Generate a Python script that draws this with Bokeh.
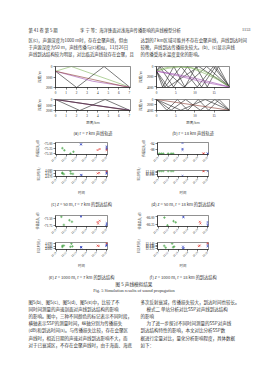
import math
from bokeh.plotting import figure
from bokeh.layouts import column, row
from bokeh.models import Range1d, Title, Legend, LegendItem, FixedTicker, NumeralTickFormatter
from bokeh.core.properties import value
from bokeh.embed import file_html
from bokeh.resources import INLINE

CJK = "Noto Sans CJK SC"
LAT = "Liberation Serif"
TXT = "#333333"

# ---------------- page text ----------------
header_left = "第 41 卷 第 5 期"
header_mid = "李 宁 等：海洋锋面对浅海声传播影响的声线模型分析"
header_right = "1153"
top_left_lines = [
    "区(c)，声源深度为1000 m时，存在会聚声线，但由",
    "于声源深度为50 m，声线传播与(c)相似，11月26日",
    "声线到达结构较为明显，对比临近声线就存在会聚，且",
]
top_right_lines = [
    "达到的7 km区域可能并不存在会聚声线，声线到达时间",
    "较晚，声线到达传播损失较大。(b)、(c)显示声线",
    "的传播受海水温度变化的影响。",
]
fig_caption_cn = "图 5  声线模拟结果"
fig_caption_en = "Fig. 5  Simulation results of sound propagation"
body_left_lines = [
    "图5(b)、图5(c)、图5(d)、图5(e)中，比较了不",
    "同时间测量的声速剖面对声线到达结构的影响",
    "的影响。图中，三种不同颜色的标记表示不同时段，",
    "横轴表示SSP的测量时间，纵轴分别为传播损失",
    "(dB)和到达时间(s)。与传播损失比较，存在会聚区",
    "声线时，相近日期的声速对声线到达影响不大，而",
    "对于已衰减区，不存在会聚声线时，由于海面、海底",
]
body_right_lines = [
    "多次反射衰减，传播损失较大，到达时间也较长。",
    "模式二  单站分析对比SSP对声线到达结构",
    "的影响",
    "为了进一步探讨不同时间测量的SSP对声线",
    "到达结构特性的影响，本文对比分析SSP数",
    "据进行定量对比，量化分析影响程度，具体数据",
    "如下：",
]

# ---------------- ray traces (range km, depth m) ----------------
depth_label = "深度/m"
range_label = "距离/km"
cap_a = "(a) r = 7 km 声线轨迹"
cap_b = "(b) r = 18 km 声线轨迹"

a1_rays = [
    ([0, 1.5, 7.0], [450, 0, 1950], "green"),
    ([0, 2.0, 4.6, 7.0], [450, 2000, 0, 1950], "black"),
    ([0, 3.5, 7.0], [450, 1400, 1950], "purple"),
    ([0, 7.0], [450, 2000], "brown"),
]
a2_rays = [
    ([0, 2.3, 4.7, 7.0], [0, 2000, 0, 1950], "black"),
    ([0, 7.0], [0, 2000], "brown"),
    ([0, 3.5, 7.0], [0, 1000, 1900], "purple"),
    ([0, 7.0], [0, 1950], "black"),
]
b1_rays = [
    ([0, 2.2, 6.4, 10.6, 14.8, 19.0], [900, 4000, 0, 4000, 0, 4000], "black"),
    ([0, 1.6, 4.5, 7.4, 10.3, 13.2, 16.1, 19.0], [900, 4000, 0, 4000, 0, 4000, 0, 4000], "black"),
    ([0, 0.8, 4.44, 8.08, 11.72, 15.36, 19.0], [900, 0, 4000, 0, 4000, 0, 4000], "black"),
    ([0, 1.2, 7.13, 13.06, 19.0], [900, 0, 4000, 0, 4000], "black"),
    ([0, 3.0, 11.0, 19.0], [900, 4000, 0, 4000], "black"),
    ([0, 2.0, 4.0, 6.0, 9.0, 13.0, 16.0, 19.0], [900, 300, 50, 0, 300, 1500, 2600, 4000], "green"),
    ([0, 3.0, 6.0, 9.0, 12.0, 16.0, 19.0], [900, 350, 100, 200, 800, 2300, 4000], "green"),
    ([0, 5.0, 10.0, 15.0, 19.0], [900, 1500, 2300, 3200, 4000], "purple"),
    ([0, 6.0, 12.0, 19.0], [900, 1900, 3000, 4000], "purple"),
]
b2_rays = [
    ([0, 3.8, 7.6, 11.4, 15.2, 19.0], [0, 4000, 0, 4000, 0, 4000], "black"),
    ([0, 6.33, 12.67, 19.0], [0, 4000, 0, 4000], "black"),
    ([0, 2.71, 5.43, 8.14, 10.86, 13.57, 16.29, 19.0], [0, 4000, 0, 4000, 0, 4000, 0, 4000], "black"),
    ([0, 19.0], [0, 4000], "brown"),
]

# ---------------- arrival structure scatter ----------------
day_labels = ["11/21", "11/22", "11/23", "11/24", "11/25", "11/26"]
series_names = ["上 午", "中 午", "下 午"]
time_label = "时间"
loss_label = "传播损失/dB"
arr_label = "到达时间/s"
cap_c = "(c) z = 50 m, r = 7 km 的到达结构"
cap_d = "(d) z = 50 m, r = 18 km 的到达结构"
cap_e = "(e) z = 1000 m, r = 7 km 的到达结构"
cap_f = "(f) z = 1000 m, r = 18 km 的到达结构"

c1_red_x = [4.1, 4.3, 5.0, 5.0]
c1_red_y = [-75.33, -75.28, -75.33, -75.29]
c1_green_x = [0.6, 0.8, 1.4, 1.7]
c1_green_y = [-75.24, -75.34, -75.50, -75.41]
c1_blue_x = [2.45, 2.45, 5.0, 5.0, 5.0]
c1_blue_y = [-75.05, -75.07, -75.15, -75.22, -75.27]

c2_red_x = [4.1, 4.25, 5.0, 5.0]
c2_red_y = [4.6752, 4.6763, 4.6795, 4.6785]
c2_green_x = [0.6, 0.75, 1.4, 1.45, 1.65, 0.6]
c2_green_y = [4.6750, 4.6738, 4.6792, 4.6748, 4.6742, 4.6765]
c2_blue_x = [2.45, 2.5, 5.0, 5.0, 5.0]
c2_blue_y = [4.6727, 4.6718, 4.6770, 4.6758, 4.6745]

d1_red_x = [4.55, 4.6]
d1_red_y = [-90.6, -90.5]
d1_green_x = [0.1, 0.3, 0.5, 1.0, 1.3, 1.5]
d1_green_y = [-90.6, -90.6, -90.6, -90.6, -90.6, -90.6]
d1_blue_x = [2.45, 2.45, 2.45, 5.0, 5.0]
d1_blue_y = [-83.9, -87.6, -88.3, -90.6, -90.5]

d2_red_x = [4.55, 4.6]
d2_red_y = [12.1105, 12.1103]
d2_green_x = [0.1, 0.3, 0.5, 1.0, 1.3, 1.5]
d2_green_y = [12.1105, 12.1105, 12.1105, 12.1105, 12.1105, 12.1105]
d2_blue_x = [2.45, 5.0]
d2_blue_y = [12.0965, 12.1105]

e1_red_x = [4.1, 4.15, 4.3]
e1_red_y = [-71.63, -71.69, -71.58]
e1_green_x = [0.5, 1.3, 1.55, 0.75]
e1_green_y = [-71.43, -71.56, -71.62, -71.74]
e1_blue_x = [2.45, 2.45, 5.0, 5.0, 4.95]
e1_blue_y = [-71.40, -71.42, -71.67, -71.72, -71.77]

e2_red_x = [4.1, 4.2, 5.0, 5.0]
e2_red_y = [4.6866, 4.6858, 4.6905, 4.6898]
e2_green_x = [0.6, 0.75, 1.4, 1.6, 1.5, 0.6]
e2_green_y = [4.6862, 4.6866, 4.6848, 4.6855, 4.6895, 4.6846]
e2_blue_x = [2.45, 2.5, 2.45, 5.0, 5.0, 4.95]
e2_blue_y = [4.6845, 4.6838, 4.6841, 4.6880, 4.6870, 4.6862]

f1_red_x = [4.2, 4.26]
f1_red_y = [-86.16, -86.22]
f1_green_x = [0.62, 1.54, 1.76, 0.93]
f1_green_y = [-86.02, -86.14, -86.18, -86.28]
f1_blue_x = [2.53, 2.55, 5.0, 5.0, 5.0]
f1_blue_y = [-85.99, -86.01, -86.17, -86.24, -86.29]

f2_red_x = [4.1, 4.2, 5.0, 5.0]
f2_red_y = [12.132, 12.134, 12.141, 12.139]
f2_green_x = [0.6, 0.75, 1.4, 1.6, 1.5]
f2_green_y = [12.133, 12.128, 12.139, 12.131, 12.129]
f2_blue_x = [2.5, 2.55, 2.5, 5.0, 5.0]
f2_blue_y = [12.131, 12.127, 12.126, 12.135, 12.131]

COL = {"black": "#222222", "green": "#7fb35a", "purple": "#a04fb0", "brown": "#8a3a30",
       "red": "#e0302a", "sgreen": "#3c9e3c", "blue": "#2d3fbf"}


def new_fig(w, h, tb, bb, lb, rb, **kw):
    p = figure(width=w, height=h, output_backend="svg", toolbar_location=None,
               min_border_top=tb, min_border_bottom=bb, min_border_left=lb, min_border_right=rb, **kw)
    p.grid.visible = False
    return p


def text_fig(w, h):
    p = figure(width=w, height=h, output_backend="svg", toolbar_location=None,
               x_range=Range1d(0, w), y_range=Range1d(h, 0), x_axis_type=None, y_axis_type=None,
               min_border=0)
    p.grid.visible = False
    p.outline_line_color = None
    return p


def style(p, xticks, yticks, ylabel=None, xlabel=None, caption=None, ylabel_size="3.6px"):
    p.xaxis.ticker = FixedTicker(ticks=xticks)
    p.yaxis.ticker = FixedTicker(ticks=yticks)
    for ax in p.axis:
        ax.major_label_text_font_size = "3.3px"
        ax.major_label_text_font = LAT
        ax.major_label_text_color = "#222222"
        ax.major_tick_out = 2
        ax.major_tick_in = 0
        ax.minor_tick_line_color = None
        ax.axis_line_width = 0.5
        ax.major_tick_line_width = 0.5
        ax.major_label_standoff = 1
        ax.axis_label_text_font_size = "3.5px"
        ax.axis_label_text_font = CJK
        ax.axis_label_text_font_style = "normal"
        ax.axis_label_standoff = 1
    p.yaxis.axis_label_text_font_size = ylabel_size
    p.outline_line_color = "#222222"
    p.outline_line_width = 0.5
    if ylabel:
        p.yaxis.axis_label = ylabel
    if xlabel:
        p.xaxis.axis_label = xlabel
    if caption:
        t = Title(text=caption, text_font_size="4.2px", text_font=CJK, text_font_style="normal",
                  align="center", standoff=1, text_color=TXT)
        p.add_layout(t, "below")


def traj_fig(h, tb, bb, lb, rb, xmax, ymax, xticks, yticks, rays, xlabel=None, caption=None):
    p = new_fig(134, h, tb, bb, lb, rb, x_range=Range1d(0, xmax), y_range=Range1d(ymax, 0))
    for xs, ys, c in rays:
        p.line(xs, ys, line_color=COL[c], line_width=0.6)
    style(p, xticks, yticks, depth_label, xlabel, caption)
    p.xaxis.axis_label_standoff = 0
    return p


def scat_fig(h, tb, bb, lb, rb, yr, yticks, fmt, data, ylabel, xlabel=None, caption=None):
    p = new_fig(134, h, tb, bb, lb, rb, x_range=Range1d(-0.08, 5.08), y_range=Range1d(*yr))
    (rx, ry), (gx, gy), (bx, by) = data
    r1 = p.scatter(rx, ry, marker="x", size=2.6, line_color=COL["red"], line_width=0.6)
    r2 = p.scatter(gx, gy, marker="cross", size=2.6, line_color=COL["sgreen"], line_width=0.6)
    r3 = p.scatter(bx, by, marker="x", size=2.6, line_color=COL["blue"], line_width=0.6)
    style(p, [0, 1, 2, 3, 4, 5], yticks, ylabel, xlabel, caption, ylabel_size="3px")
    p.xaxis.major_label_overrides = {i: lab for i, lab in enumerate(day_labels)}
    p.xaxis.major_label_orientation = math.pi / 4
    p.xaxis.major_label_text_font_size = "2.8px"
    p.xaxis.axis_label_text_font_size = "3.4px"
    p.yaxis.formatter = NumeralTickFormatter(format=fmt)
    fw = 134 - lb - rb
    leg = Legend(items=[LegendItem(label=series_names[0], renderers=[r1]),
                        LegendItem(label=series_names[1], renderers=[r2]),
                        LegendItem(label=series_names[2], renderers=[r3])],
                 location=(fw + 4, -2), label_text_font_size="3px", label_text_font=CJK,
                 glyph_width=3, glyph_height=4, label_height=4, label_width=8, label_standoff=1,
                 spacing=0, padding=1, margin=0, border_line_color="#222222", border_line_width=0.5,
                 background_fill_alpha=1.0)
    p.add_layout(leg, "center")
    return p


# ---------------- header ----------------
header = text_fig(268, 60)
header.text(x=[28], y=[29], text=[header_left], text_font=value(CJK), text_font_size="4.3px",
            text_color=TXT, text_baseline="middle")
header.text(x=[130], y=[29], text=[header_mid], text_font=value(CJK), text_font_size="4.3px",
            text_color=TXT, text_baseline="middle", text_align="center")
header.text(x=[250], y=[29], text=[header_right], text_font=value(LAT), text_font_size="4.3px",
            text_color=TXT, text_baseline="middle", text_align="right")
header.text(x=[28] * len(top_left_lines), y=[39.5 + 7 * i for i in range(len(top_left_lines))],
            text=top_left_lines, text_font=value(CJK), text_font_size="4.4px", text_color=TXT,
            text_baseline="middle")
header.text(x=[140] * len(top_right_lines), y=[39.5 + 7 * i for i in range(len(top_right_lines))],
            text=top_right_lines, text_font=value(CJK), text_font_size="4.4px", text_color=TXT,
            text_baseline="middle")

# ---------------- row A (76 px) ----------------
a1 = traj_fig(36, 6, 8, 55, 4, 7.1, 2000, [0, 1, 2, 3, 4, 5, 6, 7], [0, 1000, 2000], a1_rays)
a2 = traj_fig(40, 3, 19, 55, 4, 7.1, 2000, [0, 1, 2, 3, 4, 5, 6, 7], [0, 1000, 2000], a2_rays,
              range_label, cap_a)
b1 = traj_fig(36, 6, 8, 21, 39, 19, 4100, [0, 5, 10, 15], [0, 2000, 4000], b1_rays)
b2 = traj_fig(40, 3, 19, 21, 39, 19, 4100, [0, 5, 10, 15], [0, 2000, 4000], b2_rays,
              range_label, cap_b)

# ---------------- row B (71 px) ----------------
c1 = scat_fig(31, 6, 11, 55, 27, (-75.54, -74.97), [-75.5, -75.25, -75.0], "0.00",
              [(c1_red_x, c1_red_y), (c1_green_x, c1_green_y), (c1_blue_x, c1_blue_y)], loss_label)
c2 = scat_fig(40, 3, 24, 55, 27, (4.6695, 4.6805), [4.670, 4.675, 4.680], "0.000",
              [(c2_red_x, c2_red_y), (c2_green_x, c2_green_y), (c2_blue_x, c2_blue_y)], arr_label,
              time_label, cap_c)
d1 = scat_fig(31, 6, 11, 20, 60, (-91.2, -83.6), [-88, -84], "0",
              [(d1_red_x, d1_red_y), (d1_green_x, d1_green_y), (d1_blue_x, d1_blue_y)], loss_label)
d2 = scat_fig(40, 3, 24, 20, 60, (12.095, 12.112), [12.100, 12.105, 12.110], "0.000",
              [(d2_red_x, d2_red_y), (d2_green_x, d2_green_y), (d2_blue_x, d2_blue_y)], arr_label,
              time_label, cap_d)

# ---------------- row C (73 px) ----------------
e1 = scat_fig(32, 8, 11, 55, 27, (-71.80, -71.38), [-71.75, -71.5], "0.00",
              [(e1_red_x, e1_red_y), (e1_green_x, e1_green_y), (e1_blue_x, e1_blue_y)], loss_label)
e2 = scat_fig(41, 3, 24, 55, 27, (4.6808, 4.6912), [4.682, 4.686, 4.690], "0.000",
              [(e2_red_x, e2_red_y), (e2_green_x, e2_green_y), (e2_blue_x, e2_blue_y)], arr_label,
              time_label, cap_e)
f1 = scat_fig(32, 8, 11, 20, 60, (-86.32, -85.95), [-86.25, -86.0], "0.00",
              [(f1_red_x, f1_red_y), (f1_green_x, f1_green_y), (f1_blue_x, f1_blue_y)], loss_label)
f2 = scat_fig(41, 3, 24, 20, 60, (12.123, 12.142), [12.125, 12.130, 12.135, 12.140], "0.000",
              [(f2_red_x, f2_red_y), (f2_green_x, f2_green_y), (f2_blue_x, f2_blue_y)], arr_label,
              time_label, cap_f)

# ---------------- footer ----------------
foot = text_fig(268, 100)
foot.text(x=[134], y=[3.5], text=[fig_caption_cn], text_font=value(CJK), text_font_size="4.6px",
          text_color=TXT, text_baseline="middle", text_align="center")
foot.text(x=[134], y=[9.5], text=[fig_caption_en], text_font=value(LAT), text_font_size="4.4px",
          text_color=TXT, text_baseline="middle", text_align="center")
foot.text(x=[28] * len(body_left_lines), y=[21 + 7.2 * i for i in range(len(body_left_lines))],
          text=body_left_lines, text_font=value(CJK), text_font_size="4.5px", text_color=TXT,
          text_baseline="middle")
rx = [140, 146, 140, 146, 140, 140, 140]
foot.text(x=rx, y=[21 + 7.2 * i for i in range(len(body_right_lines))],
          text=body_right_lines, text_font=value(CJK), text_font_size="4.5px", text_color=TXT,
          text_baseline="middle")

layout = column(
    header,
    row(column(a1, a2), column(b1, b2)),
    row(column(c1, c2), column(d1, d2)),
    row(column(e1, e2), column(f1, f2)),
    foot,
)

open("out.html", "w").write(file_html(layout, INLINE))
